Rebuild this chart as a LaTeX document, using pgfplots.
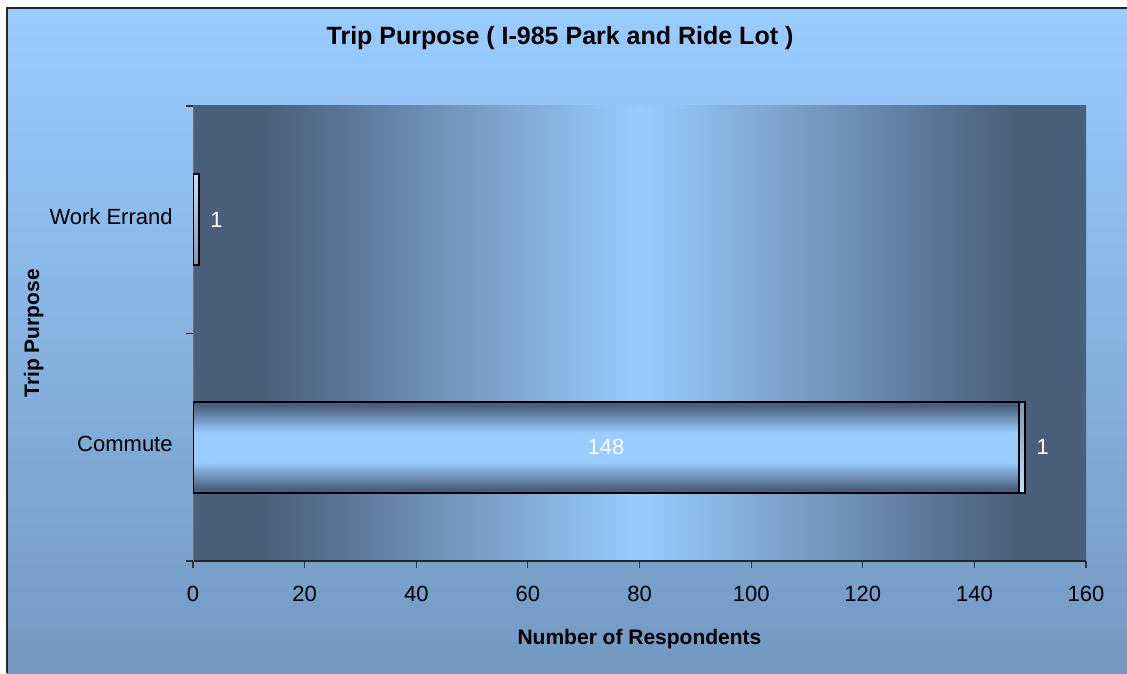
\documentclass[border=0pt]{standalone}
\usepackage{pgfplots}
\pgfplotsset{compat=1.18}
\usepackage{fontspec}
\setmainfont{Liberation Sans}

\definecolor{plotdark}{HTML}{4A5F7A}
\definecolor{plotlight}{HTML}{99CCFF}
\definecolor{bgtop}{HTML}{99CCFF}
\definecolor{bgbot}{HTML}{7399C2}

% stops between 25bp and 75bp span the filled path
\pgfdeclarehorizontalshading{plotbg}{100bp}{color(0bp)=(plotdark); color(25bp)=(plotdark);
  color(29bp)=(plotdark); color(50bp)=(plotlight); color(71bp)=(plotdark);
  color(75bp)=(plotdark); color(100bp)=(plotdark)}
\pgfdeclareverticalshading{barshade}{100bp}{color(0bp)=(plotdark); color(25bp)=(plotdark);
  color(27bp)=(plotdark); color(42bp)=(plotlight); color(58bp)=(plotlight);
  color(73bp)=(plotdark); color(75bp)=(plotdark); color(100bp)=(plotdark)}

\begin{document}
\begin{tikzpicture}
\useasboundingbox (0,0) rectangle (563.5pt,336.5pt);
\fill[white] (0,0) rectangle (563.5pt,336.5pt);
\shade[top color=bgtop, bottom color=bgbot] (3.5pt,0) rectangle (563.5pt,332.5pt);
\draw[line width=1pt, black!85] (3.5pt,0) -- (3.5pt,332.5pt) -- (563.5pt,332.5pt);
\begin{axis}[
  at={(96.5pt,56pt)}, anchor=south west,
  scale only axis, width=446.5pt, height=227.5pt,
  xbar stacked, bar width=0.4,
  xmin=0, xmax=160, ymin=-0.5, ymax=1.5,
  axis x line*=bottom, axis y line*=left,
  x axis line style={black!85, line width=0.6pt},
  y axis line style={black!55, line width=0.5pt},
  axis background/.style={shade, shading=plotbg},
  tick align=outside, major tick length=3.5pt,
  tick style={black!80, line width=0.6pt},
  xtick={0,20,...,160},
  ytick={-0.5,0.5,1.5}, yticklabels={,,},
  extra y ticks={0,1}, extra y tick labels={Commute, Work Errand},
  extra y tick style={major tick length=0pt},
  /pgf/number format/assume math mode=true,
  tick label style={font=\fontsize{11}{13}\selectfont},
  xticklabel style={anchor=base, yshift=-16.5pt},
  yticklabel style={anchor=base east, inner sep=0pt, xshift=-10pt, yshift=-2.2pt},
  title={Trip Purpose ( I-985 Park and Ride Lot )},
  title style={at={(axis description cs:0.411,1.1077)}, anchor=base,
    font=\bfseries\fontsize{12.5}{15}\selectfont},
  xlabel={Number of Respondents},
  xlabel style={at={(axis description cs:0.5,-0.1846)}, anchor=base,
    font=\bfseries\fontsize{10.5}{13}\selectfont},
  ylabel={Trip Purpose},
  ylabel style={at={(axis description cs:-0.1724,0.5)}, anchor=base,
    font=\bfseries\fontsize{10.5}{13}\selectfont},
  point meta=rawx,
  nodes near coords={\pgfmathfloatifflags{\pgfplotspointmeta}{0}{}{\pgfmathprintnumber{\pgfplotspointmeta}}},
]
% Commute at y=0, Work Errand at y=1
\addplot[draw=black, line width=1pt, shade, shading=barshade,
  every node near coord/.style={text=white, font=\fontsize{11}{13}\selectfont,
    anchor=center}]
  coordinates {(148,0) (0,1)};
\addplot[draw=black, line width=1pt,
  top color=plotlight!60!white, bottom color=plotlight!60!white, middle color=plotdark,
  every node near coord/.style={text=white, font=\fontsize{11}{13}\selectfont,
    anchor=west, xshift=3.5pt}]
  coordinates {(1,0) (1,1)};
\end{axis}
\end{tikzpicture}
\end{document}
